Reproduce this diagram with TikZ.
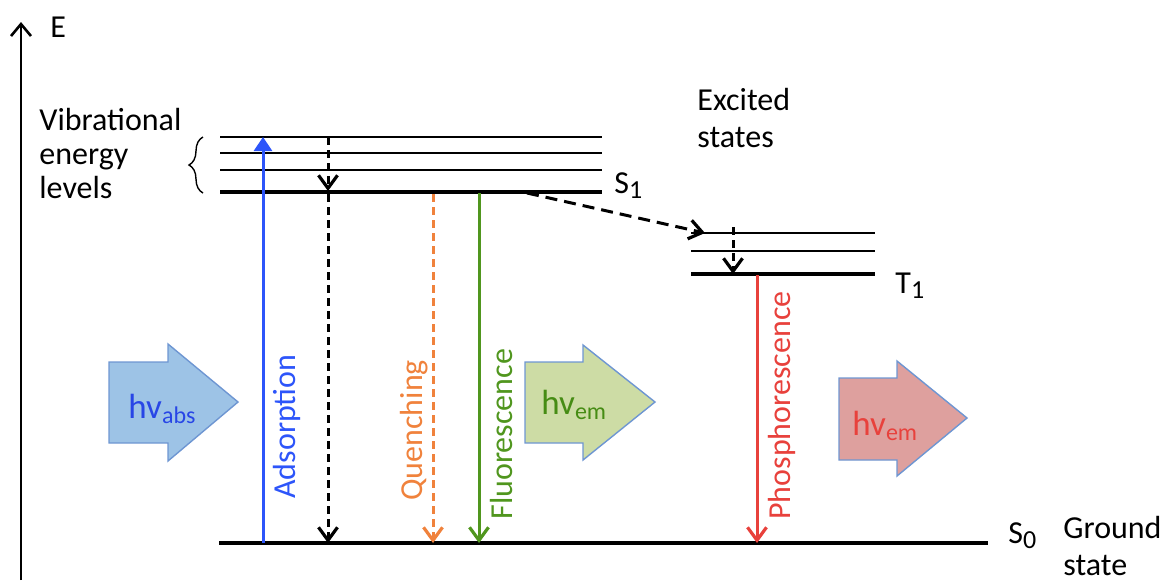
\documentclass[tikz,border=0pt]{standalone}
\usepackage{fontspec}
\setmainfont{Carlito}
\usetikzlibrary{arrows.meta,decorations.pathreplacing}
\definecolor{blueA}{RGB}{45,85,250}
\definecolor{orangeA}{RGB}{240,130,60}
\definecolor{greenA}{RGB}{80,150,30}
\definecolor{redA}{RGB}{232,65,60}
\definecolor{absfill}{RGB}{157,195,230}
\definecolor{bigborder}{RGB}{110,150,210}
\definecolor{emfill}{RGB}{205,220,165}
\definecolor{redfill}{RGB}{222,160,158}
\definecolor{abstext}{RGB}{40,70,230}
\definecolor{emtext}{RGB}{70,140,20}
\tikzset{
  lbl/.style={inner sep=0pt, font=\fontsize{16}{18.5}\selectfont, align=left},
  vlbl/.style={inner sep=0pt, font=\fontsize{16}{18}\selectfont, rotate=90, anchor=west},
  thinlev/.style={line width=1.1pt},
  thicklev/.style={line width=2pt},
  trans/.style={line width=1.5pt, -{Straight Barb[length=6.5pt,width=9.5pt,line width=1.6pt]}},
  dashtrans/.style={trans, dash pattern=on 4pt off 2.5pt},
  bigarrow/.style={draw=bigborder, line width=0.7pt},
  hvtxt/.style={inner sep=0pt, anchor=base west, font=\fontsize{17.5}{19}\selectfont}
}
\newcommand{\subsm}[1]{\textsubscript{\fontsize{12}{13}\selectfont #1}}
\begin{document}
\begin{tikzpicture}[x=0.5pt,y=-0.5pt]
\useasboundingbox (0,0) rectangle (1170,580);

% energy axis
\coordinate (ebot) at (21,580);
\coordinate (etop) at (21,22);
\draw[line width=1.3pt, -{Straight Barb[length=6pt,width=10pt]}] (ebot) -- (etop);
\node[lbl, anchor=base west] (E) at (50,37) {E};

% labels
\node[lbl, anchor=base west, font=\fontsize{16}{17}\selectfont] (vib) at (39,198) {Vibrational\\energy\\levels};
\node[lbl, anchor=base west] (exc) at (697,147) {Excited\\states};
\node[lbl, anchor=base west] (s1) at (614,193) {S\textsubscript{\fontsize{13}{14}\selectfont 1}};
\node[lbl, anchor=base west] (t1) at (895,293) {T\textsubscript{\fontsize{13}{14}\selectfont 1}};
\node[lbl, anchor=base west] (s0) at (1008,543) {S\textsubscript{\fontsize{13}{14}\selectfont 0}};
\node[lbl, anchor=base west] (gs) at (1063,575) {Ground\\state};

% brace
\coordinate (brb) at (203,193);
\coordinate (brt) at (203,137);
\draw[line width=0.7pt, decorate, decoration={brace, amplitude=7pt}] (brb) -- (brt);

% S1 levels
\foreach \y/\n in {137/a,153/b,170/c} {
  \coordinate (s1\n l) at (220,\y);
  \coordinate (s1\n r) at (602,\y);
  \draw[thinlev] (s1\n l) -- (s1\n r);
}
\coordinate (s1l) at (220,192);
\coordinate (s1r) at (602,192);
\draw[thicklev] (s1l) -- (s1r);

% T1 levels
\foreach \y/\n in {233/a,251/b} {
  \coordinate (t1\n l) at (691,\y);
  \coordinate (t1\n r) at (875,\y);
  \draw[thinlev] (t1\n l) -- (t1\n r);
}
\coordinate (t1l) at (691,274);
\coordinate (t1r) at (875,274);
\draw[thicklev] (t1l) -- (t1r);

% S0
\coordinate (s0l) at (219,543);
\coordinate (s0r) at (988,543);
\draw[thicklev] (s0l) -- (s0r);

% transitions
\coordinate (absb) at (263,543);
\coordinate (abst) at (263,137);
\draw[line width=1.5pt, blueA, -{Triangle[length=7pt,width=9pt]}] (absb) -- (abst);
\node[vlbl, text=blueA] (adsl) at (287,499) {Adsorption};

\coordinate (vr1) at (328,137);
\coordinate (vr2) at (328,191);
\draw[dashtrans] (vr1) -- (vr2);
\coordinate (ic1) at (328,194);
\coordinate (ic2) at (328,543);
\draw[dashtrans] (ic1) -- (ic2);

\coordinate (q1) at (433,194);
\coordinate (q2) at (433,543);
\draw[dashtrans, orangeA] (q1) -- (q2);
\node[vlbl, text=orangeA] (ql) at (414,501) {Quenching};

\coordinate (f1) at (479,193);
\coordinate (f2) at (479,543);
\draw[trans, greenA] (f1) -- (f2);
\node[vlbl, text=greenA] (fl) at (501,520) {Fluorescence};

\coordinate (isc1) at (527,193);
\coordinate (isc2) at (705,233);
\draw[trans, dash pattern=on 6pt off 3.5pt] (isc1) -- (isc2);

\coordinate (tv1) at (733,227);
\coordinate (tv2) at (733,274);
\draw[dashtrans] (tv1) -- (tv2);

\coordinate (p1) at (757,275);
\coordinate (p2) at (757,543);
\draw[trans, redA] (p1) -- (p2);
\node[vlbl, text=redA] (pl) at (782,520) {Phosphorescence};

% big arrows
\filldraw[bigarrow, fill=absfill] (109,362) -- (168,362) -- (168,344) -- (238,402) -- (168,461) -- (168,443) -- (109,443) -- cycle;
\node[hvtxt, text=abstext] (hvabs) at (128,418) {hv\subsm{abs}};

\filldraw[bigarrow, fill=emfill] (525,362) -- (583,362) -- (583,345) -- (655,402) -- (583,460) -- (583,443) -- (525,443) -- cycle;
\node[hvtxt, text=emtext] (hvem1) at (541,414) {hv\subsm{em}};

\filldraw[bigarrow, fill=redfill] (839,378) -- (897,378) -- (897,361) -- (967,418) -- (897,476) -- (897,460) -- (839,460) -- cycle;
\node[hvtxt, text=redA] (hvem2) at (852,435) {hv\subsm{em}};
\end{tikzpicture}
\end{document}
